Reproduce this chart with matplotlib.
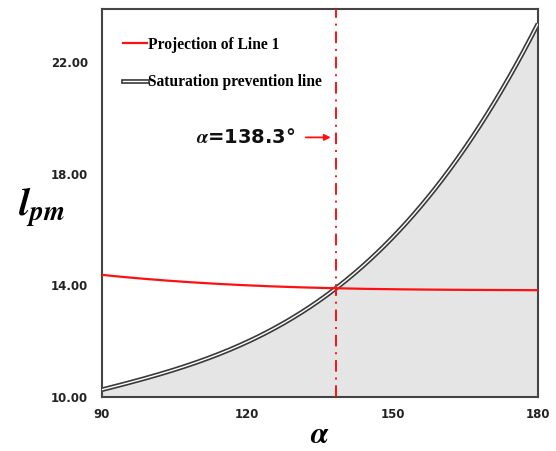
import matplotlib.pyplot as plt
import numpy as np
from matplotlib.lines import Line2D

plt.rcParams['mathtext.fontset'] = 'stix'

# Угол alpha, градусы
alpha = [90, 100, 110, 120, 130, 140, 150, 160, 170, 180]
# Линия предотвращения насыщения
l_sat = [10.27, 10.70, 11.30, 11.95, 12.90, 14.15, 15.70, 17.80, 20.20, 23.40]
# Проекция линии 1
l_proj = [14.37, 14.22, 14.10, 14.00, 13.93, 13.88, 13.86, 13.85, 13.84, 13.82]

alpha_cross = 138.3
y_ticks = [10, 14, 18, 22]
x_ticks = [90, 120, 150, 180]

fig = plt.figure(figsize=(5.56, 4.51), dpi=100)
ax = fig.add_axes([102 / 556, 54 / 451, 436 / 556, 388 / 451])

# сглаживание кривых кубическим полиномом
xs = np.linspace(90, 180, 300)
ys = np.polyval(np.polyfit(alpha, l_sat, 3), xs)
ys_p = np.polyval(np.polyfit(alpha, l_proj, 3), xs)

ax.fill_between(xs, 10, ys, color='#e6e5e6', zorder=1)
ax.plot(xs, ys, color='#3a3a3a', lw=3.4, zorder=2, solid_capstyle='butt')
ax.plot(xs, ys, color='white', lw=1.0, zorder=3, solid_capstyle='butt')
ax.plot(xs, ys_p, color='#ff1010', lw=1.6, zorder=4)
ax.axvline(alpha_cross, color='#ff1010', lw=1.4, ls=(0, (6, 3, 1, 3)), zorder=5)

ax.annotate('', xy=(alpha_cross - 0.5, 19.3), xytext=(131.5, 19.3),
            arrowprops=dict(arrowstyle='-|>', color='#ff1010', lw=1.3,
                            mutation_scale=9))
ax.text(109.5, 19.3, r'$\mathbfit{\alpha}$=138.3°', fontsize=14, fontweight='bold',
        family='DejaVu Sans', va='center', ha='left', color='#111111')

ax.set_xlim(90, 180)
ax.set_ylim(10, 23.9)
ax.set_xticks(x_ticks)
ax.set_yticks(y_ticks)
ax.set_yticklabels([f'{v:.2f}' for v in y_ticks])
ax.tick_params(length=0, labelsize=8.5)
ax.tick_params(axis='y', pad=10)
ax.tick_params(axis='x', pad=8)
for lab in ax.get_xticklabels() + ax.get_yticklabels():
    lab.set_fontweight('bold')
    lab.set_color('#222222')

for s in ax.spines.values():
    s.set_color('#444444')
    s.set_linewidth(1.5)

ax.set_xlabel(r'$\mathbfit{\alpha}$', fontsize=22, va='center')
ax.xaxis.set_label_coords(0.5, -0.097)
ax.set_ylabel(r'$\mathbfit{l}_{\mathbfit{pm}}$', fontsize=28, rotation=0,
              va='center', ha='center')
ax.yaxis.set_label_coords(-0.14, 0.49)

h_proj = Line2D([], [], color='#ff1010', lw=1.6)
h_sat = (Line2D([], [], color='#3a3a3a', lw=3.4),
         Line2D([], [], color='white', lw=1.0))
leg = ax.legend([h_proj, h_sat], ['Projection of Line 1', 'Saturation prevention line'],
                loc='upper left', bbox_to_anchor=(0.015, 0.965), frameon=False,
                handlelength=1.6, handletextpad=0.05, labelspacing=1.4,
                prop={'family': 'Liberation Serif', 'weight': 'bold', 'size': 11.2})

fig.savefig('out.png', dpi=100)
